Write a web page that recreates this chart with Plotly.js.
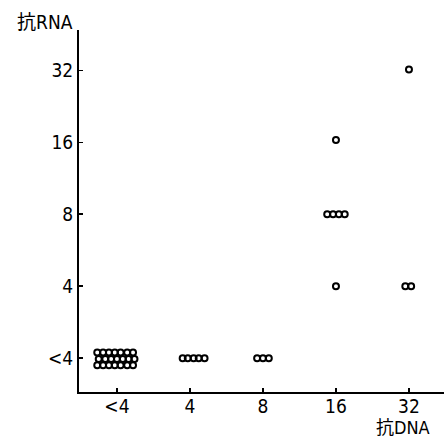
<!DOCTYPE html>
<html>
<head>
<meta charset="utf-8">
<script src="https://cdn.plot.ly/plotly-3.0.1.min.js"></script>
<style>html,body{margin:0;padding:0;background:#fff;}#chart{width:444px;height:438px;}</style>
</head>
<body>
<div id="chart"></div>
<script>
// Titre categories (log2 scale: <4, 4, 8, 16, 32)
const tickLabels = ['<4', '4', '8', '16', '32'];
const tickIndex = [0, 1, 2, 3, 4];

// Each point: anti-DNA category index, anti-RNA category index
const antiDNA = [
  0,0,0,0,0,0,0,
  0,0,0,0,0,0,0,
  0,0,0,0,0,0,0,
  1,1,1,1,1,
  2,2,2,
  3,
  3,3,3,3,
  3,
  4,
  4,4
];
const antiRNA = [
  0,0,0,0,0,0,0,
  0,0,0,0,0,0,0,
  0,0,0,0,0,0,0,
  0,0,0,0,0,
  0,0,0,
  3,
  2,2,2,2,
  1,
  4,
  1,1
];
// small offsets that spread coincident points side by side (category units)
const spreadX = [
  -0.27,-0.19,-0.11,-0.03,0.05,0.14,0.22,
  -0.25,-0.16,-0.08,0.00,0.08,0.16,0.24,
  -0.27,-0.19,-0.11,-0.03,0.05,0.14,0.22,
  -0.10,-0.03,0.05,0.12,0.20,
  -0.08,0.00,0.08,
  0.00,
  -0.12,-0.04,0.04,0.12,
  0.00,
  0.00,
  -0.05,0.03
];
const spreadY = [
  0.08,0.08,0.08,0.08,0.08,0.08,0.08,
  -0.01,-0.01,-0.01,-0.01,-0.01,-0.01,-0.01,
  -0.10,-0.10,-0.10,-0.10,-0.10,-0.10,-0.10,
  0,0,0,0,0,
  0,0,0,
  0.03,
  0,0,0,0,
  0,
  0.01,
  0,0
];

const xs = antiDNA.map((v, i) => v + spreadX[i]);
const ys = antiRNA.map((v, i) => v + spreadY[i]);

const trace = {
  x: xs, y: ys, type: 'scatter', mode: 'markers',
  marker: {symbol: 'circle-open', size: 6, color: '#000', line: {width: 2, color: '#000'}},
  hoverinfo: 'skip', cliponaxis: false
};

const fontFam = '"DejaVu Sans Condensed", "Noto Sans CJK JP", sans-serif';
const layout = {
  width: 444, height: 438,
  margin: {l: 79, r: 0, t: 30, b: 46},
  paper_bgcolor: '#fff', plot_bgcolor: '#fff',
  showlegend: false,
  font: {family: fontFam, size: 19, color: '#000'},
  xaxis: {
    range: [-0.52, 4.48], tickmode: 'array', tickvals: tickIndex, ticktext: tickLabels,
    showgrid: false, zeroline: false, showline: true, linewidth: 2, linecolor: '#000',
    ticks: 'inside', ticklen: 4, tickwidth: 1.5, tickcolor: '#000',
    ticklabelstandoff: -4,
    tickfont: {family: fontFam, size: 19, color: '#000'}
  },
  yaxis: {
    range: [-0.47, 4.56], tickmode: 'array', tickvals: tickIndex, ticktext: tickLabels,
    showgrid: false, zeroline: false, showline: true, linewidth: 2, linecolor: '#000',
    ticks: 'inside', ticklen: 4, tickwidth: 1.5, tickcolor: '#000',
    tickfont: {family: fontFam, size: 19, color: '#000'}
  },
  annotations: [
    {text: '抗RNA', xref: 'paper', yref: 'paper', x: -0.093, y: 1.022,
     xanchor: 'center', yanchor: 'middle', showarrow: false,
     font: {family: fontFam, size: 19, color: '#000'}},
    {text: '抗DNA', xref: 'paper', yref: 'paper', x: 0.888, y: -0.097,
     xanchor: 'center', yanchor: 'middle', showarrow: false,
     font: {family: fontFam, size: 18, color: '#000'}}
  ]
};

Plotly.newPlot('chart', [trace], layout, {staticPlot: true, displayModeBar: false});
</script>
</body>
</html>
